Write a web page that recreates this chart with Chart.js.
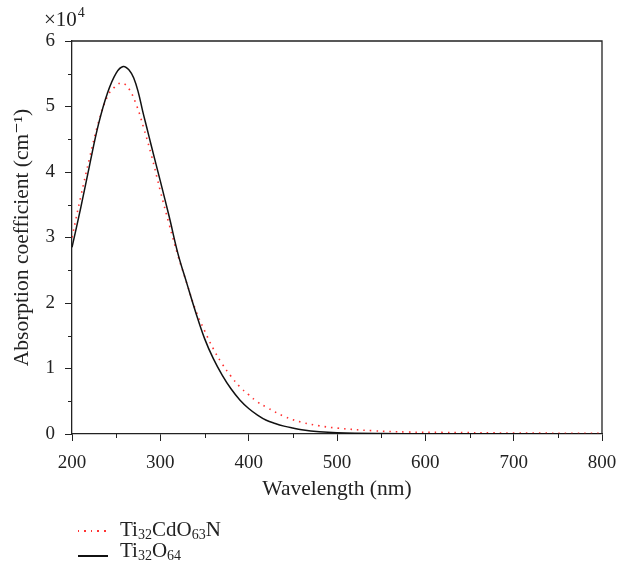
<!DOCTYPE html>
<html>
<head>
<meta charset="utf-8">
<script src="https://cdn.jsdelivr.net/npm/chart.js@4.4.0/dist/chart.umd.min.js"></script>
<style>
  html, body { margin: 0; padding: 0; background: #fff; }
  #wrap { position: relative; width: 619px; height: 566px; }
  #legend { position: absolute; left: 0; top: 0; font-family: "Liberation Serif", "DejaVu Serif", serif; font-size: 21px; color: #222; }
  .row { position: absolute; left: 78px; white-space: nowrap; line-height: 20px; }
  .swatch { position: absolute; left: 0; width: 30px; height: 1.5px; }
  .txt { position: absolute; left: 42px; }
  .txt sub { font-size: 14px; line-height: 0; vertical-align: -3px; }
</style>
</head>
<body>
<div id="wrap">
  <canvas id="chart" width="619" height="566"></canvas>
  <div id="legend">
    <div class="row" style="top:519px">
      <span class="swatch" style="top:11px;background:repeating-linear-gradient(to right,#f33 0 1.5px,transparent 1.5px 6.5px)"></span>
      <span class="txt">Ti<sub>32</sub>CdO<sub>63</sub>N</span>
    </div>
    <div class="row" style="top:540px">
      <span class="swatch" style="top:15px;background:#111"></span>
      <span class="txt">Ti<sub>32</sub>O<sub>64</sub></span>
    </div>
  </div>
</div>
<script>
  // wavelength (nm) and absorption coefficient (x10^4 cm^-1)
  const wlCdN = [200, 210, 220, 230, 240, 247, 256, 264, 273, 281, 290, 300, 310, 320, 330, 340, 350, 360, 370, 380, 390, 400, 410, 420, 440, 460, 480, 500, 540, 580, 620, 700, 800];
  const absCdN = [3.00, 3.63, 4.22, 4.76, 5.15, 5.28, 5.36, 5.28, 5.02, 4.68, 4.25, 3.71, 3.20, 2.72, 2.30, 1.89, 1.58, 1.30, 1.07, 0.88, 0.72, 0.60, 0.49, 0.41, 0.27, 0.18, 0.125, 0.09, 0.05, 0.03, 0.024, 0.015, 0.01];

  const wlPure = [200, 210, 220, 230, 240, 250, 258, 265, 270, 275, 280, 285, 290, 300, 310, 320, 330, 340, 350, 360, 370, 380, 390, 400, 410, 420, 430, 440, 450, 460, 480, 500, 550, 600, 700, 800];
  const absPure = [2.85, 3.46, 4.11, 4.73, 5.20, 5.51, 5.61, 5.55, 5.43, 5.22, 4.93, 4.66, 4.39, 3.86, 3.32, 2.75, 2.30, 1.86, 1.46, 1.15, 0.90, 0.69, 0.52, 0.39, 0.29, 0.21, 0.16, 0.12, 0.09, 0.065, 0.035, 0.02, 0.008, 0.004, 0.002, 0.001];

  const xTicks = [200, 300, 400, 500, 600, 700, 800];
  const yTicks = [0, 1, 2, 3, 4, 5, 6];

  const toPoints = (xs, ys) => xs.map((x, i) => ({ x: x, y: ys[i] }));

  const AXIS = '#222';
  const FONT = '"Liberation Serif", "DejaVu Serif", serif';

  // frame on top/right, minor ticks and the x10^4 label
  const extras = {
    id: 'extras',
    afterDraw(chart) {
      const { ctx, chartArea: a, scales } = chart;
      ctx.save();
      ctx.strokeStyle = AXIS;
      ctx.lineWidth = 1.3;
      ctx.beginPath();
      ctx.moveTo(a.left, a.top);
      ctx.lineTo(a.right, a.top);
      ctx.lineTo(a.right, a.bottom);
      ctx.stroke();

      ctx.lineWidth = 1;
      ctx.beginPath();
      for (let v = 0.5; v < 6; v += 1) {
        const y = Math.round(scales.y.getPixelForValue(v)) + 0.5;
        ctx.moveTo(a.left - 4, y);
        ctx.lineTo(a.left, y);
      }
      for (let v = 250; v < 800; v += 100) {
        const x = Math.round(scales.x.getPixelForValue(v)) + 0.5;
        ctx.moveTo(x, a.bottom);
        ctx.lineTo(x, a.bottom + 4);
      }
      ctx.stroke();

      ctx.fillStyle = AXIS;
      ctx.textBaseline = 'alphabetic';
      ctx.font = '21px ' + FONT;
      ctx.fillText('×10', 44, 26);
      const w = ctx.measureText('×10').width;
      ctx.font = '14px ' + FONT;
      ctx.fillText('4', 44 + w + 1, 17);
      ctx.restore();
    }
  };

  new Chart(document.getElementById('chart'), {
    type: 'line',
    data: {
      datasets: [
        {
          label: 'Ti32O64',
          data: toPoints(wlPure, absPure),
          borderColor: '#111',
          borderWidth: 1.5,
          pointRadius: 0,
          tension: 0.4
        },
        {
          label: 'Ti32CdO63N',
          data: toPoints(wlCdN, absCdN),
          borderColor: '#ff3030',
          borderWidth: 1.6,
          borderDash: [1.5, 5],
          pointRadius: 0,
          tension: 0.4
        }
      ]
    },
    options: {
      responsive: false,
      animation: false,
      layout: { padding: { top: 41, right: 17, left: 0, bottom: 62 } },
      plugins: { legend: { display: false }, tooltip: { enabled: false } },
      scales: {
        x: {
          type: 'linear',
          min: 200,
          max: 800,
          afterFit: (s) => { s.height = 70; s.paddingRight = 0; s.paddingLeft = 0; },
          afterBuildTicks: (s) => { s.ticks = xTicks.map(v => ({ value: v })); },
          ticks: { color: AXIS, font: { family: FONT, size: 19 }, padding: 11, maxRotation: 0 },
          grid: { drawOnChartArea: false, drawTicks: true, tickLength: 7, tickColor: AXIS, tickWidth: 1 },
          border: { display: true, color: AXIS, width: 1.3 },
          title: { display: true, text: 'Wavelength (nm)', color: AXIS, font: { family: FONT, size: 21.5 }, padding: { top: 0, bottom: 2 } }
        },
        y: {
          min: 0,
          max: 6,
          afterFit: (s) => { s.width = 72; s.paddingTop = 0; s.paddingBottom = 0; },
          afterBuildTicks: (s) => { s.ticks = yTicks.map(v => ({ value: v })); },
          ticks: { color: AXIS, font: { family: FONT, size: 19 }, padding: 10 },
          grid: { drawOnChartArea: false, drawTicks: true, tickLength: 7, tickColor: AXIS, tickWidth: 1 },
          border: { display: true, color: AXIS, width: 1.3 },
          title: { display: true, text: 'Absorption coefficient (cm⁻¹)', color: AXIS, font: { family: FONT, size: 21.5 }, padding: { top: 9, bottom: 0 } }
        }
      }
    },
    plugins: [extras]
  });
</script>
</body>
</html>
